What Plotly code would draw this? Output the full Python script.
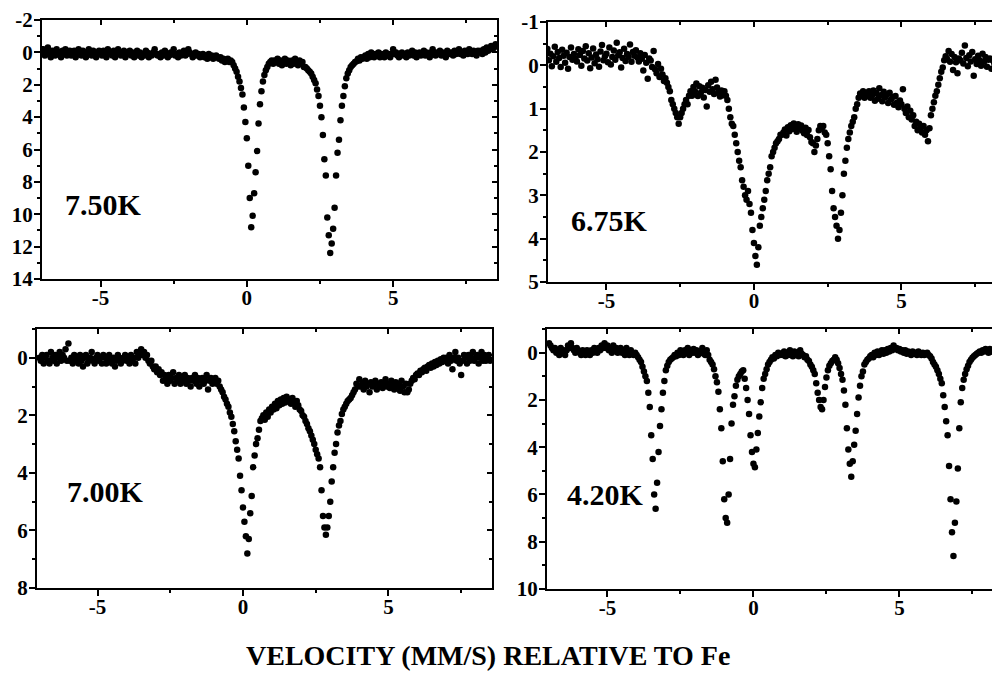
import plotly.graph_objects as go

# ---------------- data ----------------
# Moessbauer spectra: absorption (%) versus source velocity (mm/s).
# Velocity channels: uniform grid from -7.00 mm/s in steps of 0.05 mm/s.
VEL_START = -7.00
VEL_STEP = 0.05

absorption_750K = [
    0.1, -0.2, 0.2, 0.0, -0.3, 0.1, 0.3, -0.1, 0.0, 0.2, -0.2, 0.1, 0.0, 0.3, -0.1, 0.1, -0.2, 0.2, 0.0, -0.1,
    0.2, 0.0, -0.1, 0.3, 0.1, -0.2, 0.0, 0.2, -0.1, 0.1, 0.3, 0.0, -0.2, 0.1, 0.2, -0.1, 0.0, 0.3, 0.1, -0.1,
    0.0, 0.2, -0.1, 0.1, 0.3, -0.2, 0.1, 0.0, 0.2, -0.1, 0.3, 0.1, -0.2, 0.0, 0.2, 0.1, -0.1, 0.3, 0.0, 0.1,
    -0.1, 0.2, 0.0, 0.3, 0.1, -0.1, 0.2, 0.0, 0.3, 0.1, 0.2, -0.1, 0.0, 0.3, 0.1, 0.2, 0.0, -0.2, 0.1, 0.2,
    0.1, 0.3, 0.0, 0.2, -0.1, 0.1, 0.3, 0.2, 0.0, 0.1, -0.2, 0.2, 0.1, 0.3, 0.0, 0.2, 0.1, -0.1, 0.2, 0.1,
    -0.2, 0.0, 0.1, 0.3, 0.2, 0.0, 0.2, 0.1, 0.3, 0.2, 0.1, 0.3, 0.2, 0.4, 0.1, 0.3, 0.2, 0.4, 0.3, 0.2,
    0.3, 0.4, 0.3, 0.5, 0.4, 0.6, 0.5, 0.4, 0.6, 0.5, 0.6, 0.8, 1.0, 1.2, 1.5, 1.8, 2.2, 2.6, 3.4, 4.3,
    5.3, 7.0, 9.0, 10.8, 10.1, 8.7, 7.4, 6.1, 4.4, 3.2, 2.4, 1.8, 1.4, 1.1, 0.9, 0.7, 0.6, 0.5, 0.7, 0.5,
    0.6, 0.4, 0.7, 0.5, 0.8, 0.6, 0.4, 0.7, 0.5, 0.6, 0.8, 0.5, 0.7, 0.4, 0.6, 0.8, 0.5, 0.7, 0.6, 0.9,
    0.9, 1.0, 1.1, 1.2, 1.3, 1.5, 1.7, 1.9, 2.3, 2.7, 3.3, 4.0, 5.1, 6.6, 7.6, 10.2, 11.3, 12.4, 11.8, 10.9,
    9.6, 7.6, 6.2, 5.4, 4.2, 3.3, 2.7, 2.1, 1.6, 1.3, 1.1, 0.9, 0.8, 0.7, 0.6, 0.55, 0.4, 0.5, 0.3, 0.4,
    0.3, 0.2, 0.4, 0.1, 0.3, 0.0, 0.2, 0.3, 0.1, 0.2, 0.0, 0.3, 0.1, 0.2, 0.3, 0.0, 0.2, 0.1, 0.3, 0.1,
    -0.2, 0.1, 0.0, 0.2, 0.3, 0.1, 0.0, 0.2, 0.1, 0.3, 0.0, 0.2, 0.1, -0.1, 0.2, 0.0, 0.3, 0.1, 0.0, 0.2,
    0.1, -0.1, 0.2, 0.0, 0.1, 0.3, 0.0, -0.2, 0.1, 0.2, 0.0, 0.1, -0.1, 0.2, 0.0, 0.1, 0.3, -0.1, 0.0, 0.1,
    0.0, 0.2, -0.1, 0.1, 0.0, -0.2, 0.1, 0.0, 0.2, -0.1, 0.0, 0.1, -0.2, 0.0, 0.1, -0.1, 0.0, 0.2, -0.1, 0.0,
    -0.1, 0.1, -0.2, 0.0, -0.3, -0.1, -0.2, -0.4, -0.2, -0.3, -0.5,
]

absorption_675K = [
    -0.38, -0.12, -0.27, 0.02, -0.21, -0.43, -0.08, -0.31, -0.17, 0.04, -0.36, -0.22, -0.06, -0.29, 0.08, -0.19, -0.41, -0.13, -0.26, -0.15,
    -0.09, -0.37, -0.24, 0.01, -0.33, -0.16, -0.44, -0.11, -0.28, 0.07, -0.18, -0.39, -0.05, -0.25, -0.14, 0.03, -0.32, -0.47, -0.12, -0.21,
    -0.27, -0.07, -0.41, -0.02, -0.19, -0.34, -0.13, -0.52, -0.23, -0.30, 0.05, -0.17, -0.38, -0.10, -0.26, -0.20, -0.48, -0.08, -0.31, -0.22,
    -0.35, -0.18, -0.09, -0.28, -0.15, 0.12, -0.24, -0.06, 0.31, -0.16, -0.11, 0.04, -0.33, 0.09, 0.18, -0.03, 0.27, 0.08, 0.21, 0.36,
    0.30, 0.40, 0.50, 0.60, 0.80, 0.90, 1.00, 1.10, 1.20, 1.35, 1.20, 1.10, 1.00, 0.90, 0.80, 0.90, 0.70, 0.60, 0.70, 0.50,
    0.60, 0.42, 0.71, 0.48, 0.63, 0.52, 0.74, 0.57, 0.95, 0.46, 0.61, 0.38, 0.55, 0.66, 0.33, 0.51, 0.62, 0.72, 0.58, 0.69,
    0.60, 0.70, 0.80, 1.00, 1.20, 1.35, 1.40, 1.60, 1.80, 2.00, 2.20, 2.35, 2.65, 2.80, 3.00, 3.10, 2.90, 3.20, 3.40, 3.80,
    4.10, 4.40, 4.60, 4.20, 3.70, 3.50, 3.30, 3.10, 2.90, 2.65, 2.50, 2.35, 2.10, 2.00, 1.90, 1.80, 1.75, 1.70, 1.60, 1.60,
    1.55, 1.48, 1.62, 1.43, 1.52, 1.38, 1.47, 1.34, 1.41, 1.53, 1.36, 1.46, 1.39, 1.51, 1.57, 1.44, 1.61, 1.49, 1.66, 1.77,
    1.80, 2.00, 1.85, 1.70, 1.50, 1.40, 1.45, 1.40, 1.55, 1.60, 1.80, 2.10, 2.40, 2.90, 3.30, 3.50, 3.70, 4.00, 3.80, 3.40,
    3.00, 2.50, 2.20, 1.90, 1.70, 1.55, 1.40, 1.30, 1.20, 1.00, 0.90, 0.75, 0.65, 0.70, 0.60, 0.75, 0.65, 0.70, 0.60, 0.75,
    0.70, 0.58, 0.82, 0.64, 0.77, 0.53, 0.69, 0.83, 0.61, 0.74, 0.68, 0.87, 0.63, 0.79, 0.73, 0.91, 0.71, 0.86, 0.97, 0.81,
    0.90, 0.55, 1.00, 1.10, 0.95, 1.20, 1.05, 1.25, 1.15, 1.40, 1.30, 1.50, 1.35, 1.45, 1.55, 1.40, 1.60, 1.50, 1.75, 1.45,
    1.15, 1.00, 0.85, 0.70, 0.60, 0.45, 0.30, 0.15, 0.05, -0.12, -0.21, -0.14, -0.33, -0.08, -0.26, 0.11, -0.19, -0.07, 0.18, -0.16,
    -0.11, -0.29, -0.04, -0.46, -0.17, 0.02, -0.23, -0.09, -0.31, 0.24, -0.14, -0.03, -0.22, -0.12, 0.01, -0.27, -0.08, -0.19, 0.03, -0.13,
    -0.16, 0.08, -0.11, -0.04, 0.01, -0.09, -0.21, 0.02, -0.12, 0.06, -0.08,
]

absorption_700K = [
    0.0, 0.1, -0.1, 0.2, 0.0, -0.1, 0.1, 0.2, -0.2, 0.0, 0.1, -0.1, 0.2, 0.0, -0.2, 0.1, -0.1, 0.0, -0.3, 0.1,
    -0.5, 0.1, 0.0, 0.2, -0.1, 0.1, 0.0, 0.2, -0.1, 0.1, 0.3, 0.0, -0.1, 0.2, 0.1, 0.0, -0.2, 0.1, 0.2, 0.0,
    -0.1, 0.1, 0.0, 0.2, -0.1, 0.0, 0.2, 0.1, -0.1, 0.1, 0.2, 0.0, 0.3, 0.1, -0.1, 0.0, 0.2, 0.1, 0.0, -0.1,
    0.1, 0.0, 0.2, -0.1, 0.1, 0.0, 0.2, -0.2, 0.0, -0.1, -0.3, -0.1, -0.2, 0.0, -0.1, 0.1, 0.2, 0.1, 0.3, 0.4,
    0.3, 0.5, 0.4, 0.6, 0.5, 0.8, 0.6, 0.7, 0.9, 0.6, 0.8, 0.7, 0.5, 0.9, 0.7, 0.8, 0.6, 0.9, 0.7, 0.8,
    0.6, 0.9, 0.7, 0.8, 1.0, 0.7, 0.8, 0.6, 0.9, 0.7, 1.0, 0.8, 0.7, 0.9, 0.8, 0.6, 1.1, 0.8, 0.7, 0.9,
    0.8, 0.7, 0.9, 0.8, 1.0, 1.1, 1.2, 1.35, 1.45, 1.6, 1.7, 1.9, 2.05, 2.3, 2.55, 2.9, 3.2, 3.5, 4.1, 4.6,
    5.2, 5.7, 6.2, 6.8, 6.3, 5.4, 4.8, 3.8, 3.4, 3.0, 2.8, 2.5, 2.2, 2.1, 2.0, 2.15, 1.9, 2.05, 1.8, 1.9,
    1.7, 1.8, 1.6, 1.75, 1.5, 1.65, 1.45, 1.6, 1.4, 1.55, 1.35, 1.5, 1.45, 1.6, 1.4, 1.55, 1.7, 1.5, 1.65, 1.8,
    1.85, 2.0, 2.05, 2.2, 2.3, 2.45, 2.55, 2.7, 2.85, 3.0, 3.2, 3.35, 3.5, 3.8, 4.6, 5.5, 5.9, 6.15, 5.9, 5.5,
    5.0, 4.3, 3.8, 3.3, 3.0, 2.6, 2.35, 2.2, 1.95, 1.8, 1.7, 1.6, 1.5, 1.45, 1.4, 1.3, 1.2, 1.1, 0.9, 1.0,
    0.75, 1.0, 0.9, 1.1, 0.8, 1.0, 0.9, 1.2, 0.85, 1.0, 0.95, 0.8, 1.1, 0.9, 1.0, 0.85, 1.05, 0.9, 0.75, 1.0,
    0.9, 1.05, 0.8, 0.95, 1.1, 0.85, 1.0, 0.9, 1.15, 0.8, 1.0, 1.2, 0.9, 1.2, 1.1, 0.9, 0.8, 0.7, 0.75, 0.6,
    0.55, 0.6, 0.45, 0.5, 0.4, 0.35, 0.45, 0.3, 0.25, 0.35, 0.2, 0.3, 0.15, 0.25, 0.1, 0.2, 0.05, 0.15, 0.0, 0.1,
    0.0, 0.2, -0.1, 0.1, 0.4, 0.0, -0.2, 0.1, 0.0, 0.2, 0.6, 0.1, -0.1, 0.0, 0.2, -0.1, 0.1, 0.0, -0.2, 0.1,
    0.0, -0.1, 0.2, 0.0, -0.2, 0.1, -0.1, 0.1, 0.0, -0.1, 0.1,
]

absorption_420K = [
    -0.4, -0.3, -0.2, -0.1, -0.2, 0.0, -0.1, 0.1, -0.2, 0.0, -0.1, 0.1, -0.1, -0.3, -0.2, -0.4, -0.2, -0.1, 0.0, -0.2,
    -0.1, 0.0, 0.1, -0.1, 0.0, 0.1, -0.1, 0.0, 0.1, -0.1, 0.0, -0.2, -0.1, 0.0, -0.2, -0.1, -0.3, -0.2, -0.4, -0.2,
    -0.3, -0.1, -0.2, 0.0, -0.3, -0.1, -0.2, 0.0, -0.1, -0.2, 0.0, -0.1, 0.1, -0.2, 0.0, 0.1, -0.1, 0.0, 0.1, 0.0,
    0.1, 0.2, 0.3, 0.4, 0.6, 0.8, 1.0, 1.2, 1.7, 2.3, 3.5, 4.5, 6.0, 6.6, 5.5, 4.2, 3.1, 2.4, 1.7, 1.2,
    0.75, 0.55, 0.4, 0.3, 0.25, 0.2, 0.1, 0.15, 0.0, 0.1, -0.1, 0.0, 0.1, -0.1, 0.0, -0.2, 0.1, -0.1, 0.0, -0.15,
    0.0, -0.1, 0.1, -0.05, 0.0, -0.2, 0.05, 0.1, -0.1, 0.1, 0.3, 0.4, 0.5, 0.7, 1.0, 1.25, 1.65, 2.4, 3.2, 4.6,
    6.2, 7.0, 7.2, 6.0, 4.5, 3.0, 2.2, 1.85, 1.4, 1.15, 1.0, 0.9, 0.8, 0.75, 1.1, 1.5, 2.0, 2.6, 3.5, 4.2,
    4.7, 4.85, 4.1, 3.4, 2.7, 2.1, 1.5, 1.1, 0.9, 0.7, 0.5, 0.4, 0.3, 0.2, 0.25, 0.1, 0.15, 0.0, 0.1, 0.05,
    0.1, -0.05, 0.15, 0.0, 0.1, -0.1, 0.05, 0.15, -0.05, 0.1, 0.0, 0.15, -0.1, 0.05, 0.1, 0.2, 0.15, 0.3, 0.35, 0.5,
    0.6, 0.75, 0.9, 1.3, 1.7, 2.0, 2.3, 2.4, 2.0, 1.45, 1.05, 0.75, 0.55, 0.45, 0.35, 0.3, 0.2, 0.3, 0.45, 0.65,
    0.9, 1.15, 1.6, 2.2, 3.2, 4.1, 4.7, 5.25, 4.6, 3.9, 3.3, 2.6, 1.9, 1.4, 1.0, 0.8, 0.5, 0.4, 0.3, 0.25,
    0.15, 0.1, 0.2, 0.0, 0.1, -0.05, 0.1, 0.0, -0.1, 0.05, -0.1, 0.0, -0.15, -0.05, -0.2, -0.1, -0.3, -0.15, -0.2, -0.1,
    -0.15, -0.05, -0.1, 0.0, -0.1, 0.05, -0.05, 0.0, 0.1, -0.05, 0.05, 0.0, 0.1, -0.05, 0.05, 0.1, 0.0, 0.1, 0.05, 0.0,
    0.1, 0.15, 0.25, 0.4, 0.5, 0.6, 0.75, 0.9, 1.1, 1.3, 1.8, 2.3, 2.9, 3.5, 4.8, 6.2, 7.6, 8.6, 7.2, 6.3,
    4.9, 3.2, 2.1, 1.5, 1.15, 0.9, 0.7, 0.55, 0.4, 0.3, 0.22, 0.15, 0.1, 0.05, 0.0, -0.05, 0.0, -0.1, -0.05, -0.15,
    -0.1, 0.0, -0.15, -0.05, -0.1, 0.0, -0.1, -0.05, 0.0, -0.1, -0.05,
]

panel_labels = ["7.50K", "6.75K", "7.00K", "4.20K"]
x_major_ticks = [-5, 0, 5]
x_major_text = ["-5", "0", "5"]
x_minor_ticks = [-2.5, 2.5, 7.5]
y_ticks_750K = [-2, 0, 2, 4, 6, 8, 10, 12, 14]
y_ticks_675K = [-1, 0, 1, 2, 3, 4, 5]
y_ticks_700K = [0, 2, 4, 6, 8]
y_ticks_420K = [0, 2, 4, 6, 8, 10]
x_title = "VELOCITY (MM/S) RELATIVE TO Fe"

# ---------------- figure ----------------
W, H = 992, 677
FONT = "Liberation Serif"

n = len(absorption_750K)
velocity = [round(VEL_START + VEL_STEP * i, 2) for i in range(n)]
for arr in (absorption_675K, absorption_700K, absorption_420K):
    assert len(arr) == n


def fx(p):
    return p / W


def fy(p):
    return 1 - p / H


def minor_between(vals, step):
    out = [v + step / 2 for v in vals]
    out.insert(0, vals[0] - step / 2)
    return out


panels = [
    dict(data=absorption_750K, yt=y_ticks_750K, ystep=2, dx=(42, 497), dy=(20, 279),
         xr=(-7.0, 8.55), yr=(14, -2), right=True, lab=(63, 205)),
    dict(data=absorption_675K, yt=y_ticks_675K, ystep=1, dx=(548, 992), dy=(22, 282),
         xr=(-6.98, 8.07), yr=(5, -1), right=False, lab=(569, 221)),
    dict(data=absorption_700K, yt=y_ticks_700K, ystep=2, dx=(37, 492), dy=(329, 588),
         xr=(-7.08, 8.56), yr=(8, -1), right=True, lab=(65, 491)),
    dict(data=absorption_420K, yt=y_ticks_420K, ystep=2, dx=(547, 992), dy=(329, 589),
         xr=(-7.07, 8.17), yr=(10, -1), right=False, lab=(565, 494)),
]

fig = go.Figure()
tickfont = dict(family=FONT, size=21, color="black", weight="bold")
annotations = []
extra_y = 5
for i, p in enumerate(panels):
    k = i + 1
    xs = "" if k == 1 else str(k)
    xname, yname = "x" + xs, "y" + xs
    fig.add_trace(go.Scatter(
        x=velocity, y=p["data"], mode="markers", xaxis=xname, yaxis=yname,
        marker=dict(size=6.5, color="black", line=dict(width=0)),
        showlegend=False, hoverinfo="skip", cliponaxis=True))

    ymin = [v for v in minor_between(p["yt"], p["ystep"]) if min(p["yr"]) <= v <= max(p["yr"])]
    common_x = dict(range=list(p["xr"]), showgrid=False, zeroline=False, showline=True,
                    linecolor="black", linewidth=2, tickmode="array", automargin=False,
                    tickvals=x_major_ticks, tickwidth=2, tickcolor="black")
    common_y = dict(range=list(p["yr"]), showgrid=False, zeroline=False, showline=True,
                    linecolor="black", linewidth=2, tickmode="array", automargin=False,
                    tickvals=p["yt"], tickwidth=2, tickcolor="black")

    fig.layout["xaxis" + xs] = dict(
        common_x, domain=[fx(p["dx"][0]), fx(p["dx"][1])], anchor=yname, side="bottom",
        ticktext=x_major_text, ticks="outside", ticklen=6, tickfont=tickfont,
        ticklabelstandoff=-7,
        minor=dict(tickmode="array", tickvals=x_minor_ticks, ticks="outside",
                   ticklen=3, tickwidth=2, tickcolor="black"))
    fig.layout["yaxis" + xs] = dict(
        common_y, domain=[fy(p["dy"][1]), fy(p["dy"][0])], anchor=xname, side="left",
        ticktext=[str(v) for v in p["yt"]], ticks="outside", ticklen=6, tickfont=tickfont,
        ticklabelstandoff=-3,
        minor=dict(tickmode="array", tickvals=ymin, ticks="outside",
                   ticklen=3, tickwidth=2, tickcolor="black"))

    # top frame with inward ticks
    top = "xaxis" + str(4 + k)
    fig.layout[top] = dict(
        common_x, overlaying=xname, anchor=yname, side="top", ticks="inside",
        ticklen=5, showticklabels=False,
        minor=dict(tickmode="array", tickvals=x_minor_ticks, ticks="inside",
                   ticklen=3, tickwidth=2, tickcolor="black"))
    fig.add_trace(go.Scatter(x=[], y=[], xaxis="x" + str(4 + k), yaxis=yname,
                             showlegend=False, hoverinfo="skip"))
    if p["right"]:
        ry = "yaxis" + str(extra_y)
        fig.layout[ry] = dict(
            common_y, overlaying=yname, anchor=xname, side="right", ticks="inside",
            ticklen=5, showticklabels=False,
            minor=dict(tickmode="array", tickvals=ymin, ticks="inside",
                       ticklen=3, tickwidth=2, tickcolor="black"))
        fig.add_trace(go.Scatter(x=[], y=[], xaxis=xname, yaxis="y" + str(extra_y),
                                 showlegend=False, hoverinfo="skip"))
        extra_y += 1

    annotations.append(dict(
        text=panel_labels[i], xref="paper", yref="paper", x=fx(p["lab"][0]), y=fy(p["lab"][1]),
        xanchor="left", yanchor="middle", showarrow=False,
        font=dict(family=FONT, size=30, color="black", weight="bold")))

annotations.append(dict(
    text=x_title, xref="paper", yref="paper", x=fx(488), y=fy(655),
    xanchor="center", yanchor="middle", showarrow=False,
    font=dict(family=FONT, size=28, color="black", weight="bold")))

fig.update_layout(
    width=W, height=H, margin=dict(l=0, r=0, t=0, b=0, pad=0, autoexpand=False),
    paper_bgcolor="white", plot_bgcolor="white",
    annotations=annotations, showlegend=False,
)

fig.write_html("out.html", config={"displayModeBar": False},
               post_script="document.body.style.margin='0';")
